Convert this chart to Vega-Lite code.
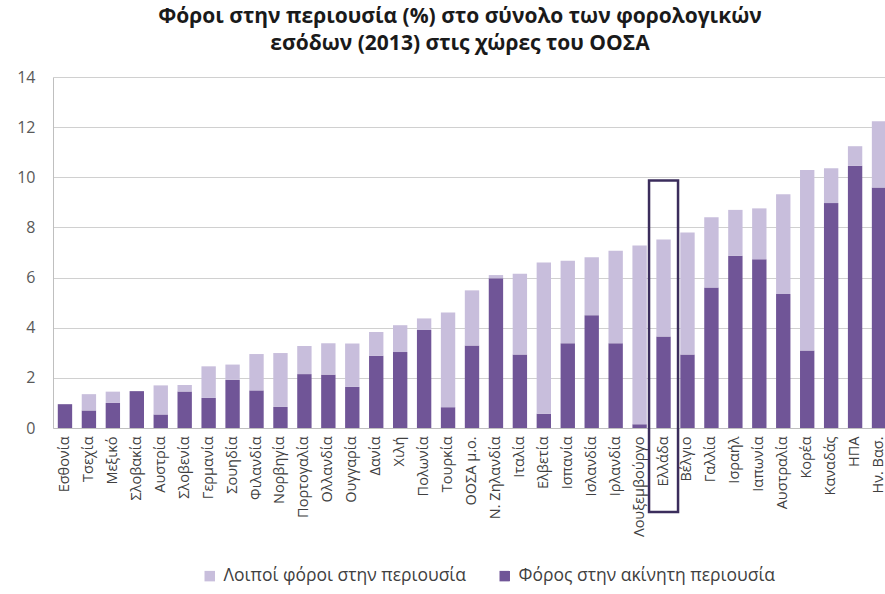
{
  "$schema": "https://vega.github.io/schema/vega-lite/v6.json",
  "autosize": {"type": "none"},
  "width": 838,
  "height": 351,
  "padding": {"left": 53, "top": 77, "right": 0, "bottom": 166},
  "background": "white",
  "config": {
    "font": "Open Sans",
    "view": {"stroke": null}
  },
  "title": {
    "text": ["Φόροι στην  περιουσία (%) στο σύνολο των φορολογικών", "εσόδων (2013) στις χώρες του ΟΟΣΑ"],
    "fontSize": 21,
    "fontWeight": "bold",
    "color": "#1a1a1a",
    "anchor": "middle",
    "dx": -12,
    "offset": 15,
    "lineHeight": 27
  },
  "layer": [
    {
      "data": {"values": [
        {"country": "Εσθονία", "akiniti": 0.95, "loipoi": 0},
        {"country": "Τσεχία", "akiniti": 0.7, "loipoi": 0.65},
        {"country": "Μεξικό", "akiniti": 1.0, "loipoi": 0.45},
        {"country": "Σλοβακία", "akiniti": 1.47, "loipoi": 0},
        {"country": "Αυστρία", "akiniti": 0.54, "loipoi": 1.16},
        {"country": "Σλοβενία", "akiniti": 1.46, "loipoi": 0.26},
        {"country": "Γερμανία", "akiniti": 1.2, "loipoi": 1.26},
        {"country": "Σουηδία", "akiniti": 1.92, "loipoi": 0.61},
        {"country": "Φιλανδία", "akiniti": 1.5, "loipoi": 1.45},
        {"country": "Νορβηγία", "akiniti": 0.84, "loipoi": 2.15},
        {"country": "Πορτογαλία", "akiniti": 2.15, "loipoi": 1.12},
        {"country": "Ολλανδία", "akiniti": 2.13, "loipoi": 1.25},
        {"country": "Ουγγαρία", "akiniti": 1.64, "loipoi": 1.73},
        {"country": "Δανία", "akiniti": 2.88, "loipoi": 0.95},
        {"country": "Χιλή", "akiniti": 3.03, "loipoi": 1.07},
        {"country": "Πολωνία", "akiniti": 3.91, "loipoi": 0.46},
        {"country": "Τουρκία", "akiniti": 0.83, "loipoi": 3.78},
        {"country": "ΟΟΣΑ μ.ο.", "akiniti": 3.29, "loipoi": 2.2},
        {"country": "Ν. Ζηλανδία", "akiniti": 5.97, "loipoi": 0.13},
        {"country": "Ιταλία", "akiniti": 2.93, "loipoi": 3.22},
        {"country": "Ελβετία", "akiniti": 0.57, "loipoi": 6.03},
        {"country": "Ισπανία", "akiniti": 3.38, "loipoi": 3.29},
        {"country": "Ισλανδία", "akiniti": 4.5, "loipoi": 2.31},
        {"country": "Ιρλανδία", "akiniti": 3.38, "loipoi": 3.69},
        {"country": "Λουξεμβούργο", "akiniti": 0.15, "loipoi": 7.13},
        {"country": "Ελλάδα", "akiniti": 3.65, "loipoi": 3.87},
        {"country": "Βέλγιο", "akiniti": 2.93, "loipoi": 4.87},
        {"country": "Γαλλία", "akiniti": 5.6, "loipoi": 2.81},
        {"country": "Ισραήλ", "akiniti": 6.87, "loipoi": 1.83},
        {"country": "Ιαπωνία", "akiniti": 6.73, "loipoi": 2.03},
        {"country": "Αυστραλία", "akiniti": 5.34, "loipoi": 3.98},
        {"country": "Κορέα", "akiniti": 3.09, "loipoi": 7.2},
        {"country": "Καναδάς", "akiniti": 8.97, "loipoi": 1.39},
        {"country": "ΗΠΑ", "akiniti": 10.46, "loipoi": 0.78},
        {"country": "Ην. Βασ.", "akiniti": 9.59, "loipoi": 2.65}
      ]},
      "transform": [{"fold": ["akiniti", "loipoi"], "as": ["type", "value"]}],
      "mark": {"type": "bar"},
      "encoding": {
        "x": {
          "field": "country", "type": "nominal", "sort": null,
          "scale": {"paddingInner": 0.4, "paddingOuter": 0.2},
          "axis": {
            "title": null, "labelAngle": -90, "labelFontSize": 14.5, "labelColor": "#404040",
            "domainColor": "#bfbfbf", "ticks": false, "labelPadding": 8, "labelLimit": 0
          }
        },
        "y": {
          "field": "value", "type": "quantitative", "stack": "zero",
          "scale": {"domain": [0, 14]},
          "axis": {
            "title": null, "values": [0, 2, 4, 6, 8, 10, 12, 14], "labelFontSize": 16,
            "labelColor": "#595959", "gridColor": "#d0d0d0", "domainColor": "#bfbfbf",
            "ticks": false, "labelPadding": 18
          }
        },
        "color": {
          "field": "type", "type": "nominal",
          "scale": {"domain": ["loipoi", "akiniti"], "range": ["#c8bedc", "#705597"]},
          "legend": {
            "title": null, "orient": "none", "direction": "horizontal", "legendX": 148, "legendY": 490,
            "labelExpr": "datum.label == 'loipoi' ? 'Λοιποί φόροι στην περιουσία' : 'Φόρος στην ακίνητη περιουσία'",
            "symbolType": "square", "symbolSize": 110, "labelFontSize": 17.5, "labelColor": "#404040",
            "columnPadding": 30, "symbolStrokeWidth": 0, "labelLimit": 0, "labelOffset": 5
          }
        },
        "order": {"field": "type", "sort": "ascending"}
      }
    },
    {
      "data": {"values": [{"country": "Ελλάδα", "top": 9.87, "bottom": -3.35}]},
      "mark": {"type": "bar", "width": 29, "filled": false, "stroke": "#3b2d5c", "strokeWidth": 2.5, "clip": false},
      "encoding": {
        "x": {"field": "country", "type": "nominal", "sort": null},
        "y": {"field": "top", "type": "quantitative"},
        "y2": {"field": "bottom"}
      }
    }
  ]
}
